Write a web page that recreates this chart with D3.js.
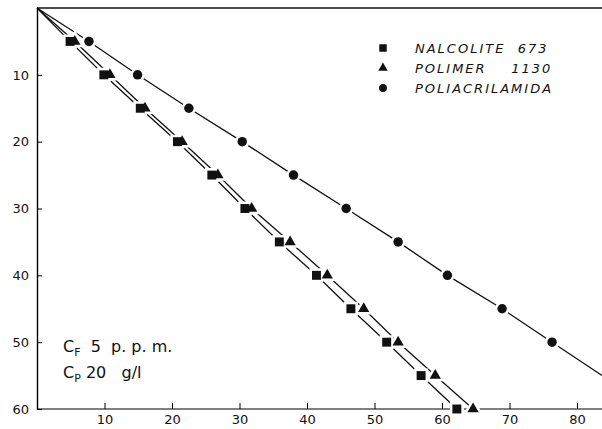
<!DOCTYPE html>
<html>
<head>
<meta charset="utf-8">
<script src="https://cdn.jsdelivr.net/npm/d3@7"></script>
<style>
  body { margin: 0; background: #fff; }
  svg { display: block; }
  text { font-family: "DejaVu Sans", sans-serif; fill: #111; }
</style>
</head>
<body>
<div id="chart"></div>
<script>
let W = 602, H = 429;

// time (rows) and penetration
let times = [5, 10, 15, 20, 25, 30, 35, 40, 45, 50, 55, 60];
let nalcolite = [4.9, 9.9, 15.3, 20.8, 25.9, 30.8, 35.9, 41.4, 46.5, 51.8, 56.9, 62.2];
let polimer = [5.6, 10.8, 16.0, 21.5, 26.8, 31.8, 37.5, 43.0, 48.4, 53.5, 59.0, 64.6];
let timesPA = [5, 10, 15, 20, 25, 30, 35, 40, 45, 50];
let poliacril = [7.7, 14.9, 22.5, 30.4, 38.0, 45.8, 53.5, 60.8, 68.9, 76.3];

let xTicks = [10, 20, 30, 40, 50, 60, 70, 80];
let yTicks = [10, 20, 30, 40, 50, 60];
let legendNames = ["NALCOLITE  673", "POLIMER    1130", "POLIACRILAMIDA"];

let x = d3.scaleLinear().domain([0, 83.7]).range([37, 602]);
let y = d3.scaleLinear().domain([0, 60]).range([8, 409]);

let svg = d3.select("#chart").append("svg")
  .attr("width", W).attr("height", H);

// frame lines
svg.append("line")
  .attr("x1", x(0)).attr("x2", W).attr("y1", y(0)).attr("y2", y(0))
  .attr("stroke", "#111").attr("stroke-width", 1.6);

let xAxis = svg.append("g")
  .attr("transform", "translate(0," + y(60) + ")")
  .call(d3.axisBottom(x).tickValues(xTicks).tickSizeInner(-6).tickSizeOuter(0).tickPadding(6));
xAxis.select(".domain").attr("d", "M" + x(0) + ",0H" + W).attr("stroke-width", 1);
xAxis.selectAll("text").style("font-size", "13px");

let yAxis = svg.append("g")
  .attr("transform", "translate(" + x(0) + ",0)")
  .call(d3.axisLeft(y).tickValues(yTicks).tickSizeInner(-5).tickSizeOuter(0).tickPadding(8));
yAxis.select(".domain").attr("stroke-width", 1.4);
yAxis.selectAll("text").style("font-size", "13px");

let series = [
  { name: "sq", xs: nalcolite, ys: times, sym: d3.symbolSquare, size: 80 },
  { name: "tri", xs: polimer, ys: times, sym: d3.symbolTriangle, size: 55 },
  { name: "dot", xs: poliacril, ys: timesPA, sym: d3.symbolCircle, size: 70 }
];

let line = d3.line().x(d => x(d[0])).y(d => y(d[1]));

series.forEach(function (s) {
  let pts = [[0, 0]];
  for (let i = 0; i < s.xs.length; ++i) pts.push([s.xs[i], s.ys[i]]);
  if (s.name == "dot") {
    // line keeps going to the right edge
    let n = pts.length;
    let a = pts[n - 2], b = pts[n - 1];
    let k = (b[1] - a[1]) / (b[0] - a[0]);
    let xe = x.domain()[1];
    pts.push([xe, b[1] + k * (xe - b[0])]);
  }
  svg.append("path")
    .attr("d", line(pts))
    .attr("fill", "none")
    .attr("stroke", "#111")
    .attr("stroke-width", 1.3);
});

// white halos so the lines stop short of the markers
series.forEach(function (s) {
  svg.append("g").selectAll("path")
    .data(s.xs)
    .enter()
    .append("path")
    .attr("transform", (d, i) => "translate(" + x(d) + "," + y(s.ys[i]) + ")")
    .attr("d", d3.symbol().type(s.sym).size(s.size))
    .attr("fill", "#fff")
    .attr("stroke", "#fff")
    .attr("stroke-width", 5);
});

series.forEach(function (s) {
  svg.append("g").selectAll("path")
    .data(s.xs)
    .enter()
    .append("path")
    .attr("transform", (d, i) => "translate(" + x(d) + "," + y(s.ys[i]) + ")")
    .attr("d", d3.symbol().type(s.sym).size(s.size))
    .attr("fill", "#111");
});

// legend
let legend = svg.append("g").attr("transform", "translate(383,48)");
series.forEach(function (s, i) {
  legend.append("path")
    .attr("transform", "translate(0," + (i * 20) + ")")
    .attr("d", d3.symbol().type(s.sym).size(s.size * 0.7))
    .attr("fill", "#111");
  legend.append("text")
    .attr("x", 32).attr("y", i * 20 + 5)
    .style("font-size", "13px")
    .style("font-style", "italic")
    .style("letter-spacing", "2px")
    .style("white-space", "pre")
    .text(legendNames[i]);
});

// conditions note
let note = svg.append("g").attr("transform", "translate(63,0)");
let t1 = note.append("text").attr("y", 352).style("font-size", "16px").style("white-space", "pre");
t1.append("tspan").text("C");
t1.append("tspan").attr("dy", 4).style("font-size", "11px").text("F");
t1.append("tspan").attr("dy", -4).text("  5  p. p. m.");
let t2 = note.append("text").attr("y", 378).style("font-size", "16px").style("white-space", "pre");
t2.append("tspan").text("C");
t2.append("tspan").attr("dy", 4).style("font-size", "11px").text("P");
t2.append("tspan").attr("dy", -4).text(" 20   g/l");
</script>
</body>
</html>
